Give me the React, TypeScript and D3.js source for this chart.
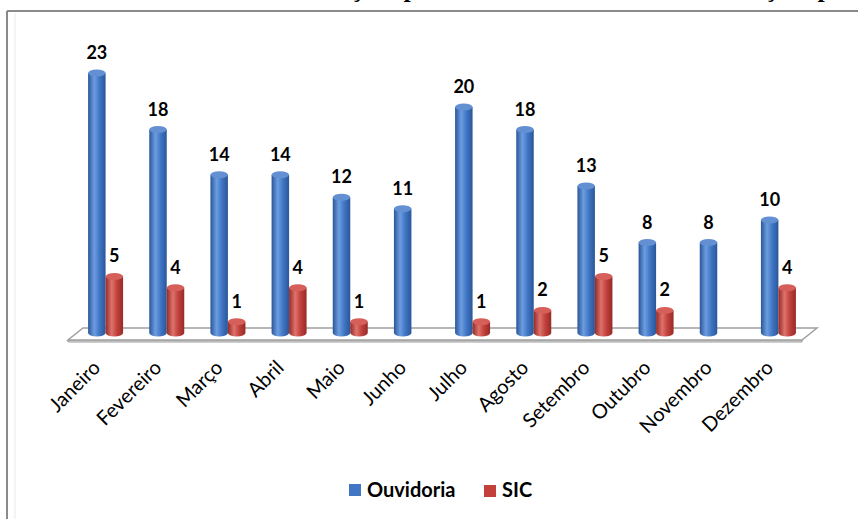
import * as d3 from "d3";

const months = ["Janeiro", "Fevereiro", "Março", "Abril", "Maio", "Junho", "Julho", "Agosto", "Setembro", "Outubro", "Novembro", "Dezembro"];
const ouvidoria = [23, 18, 14, 14, 12, 11, 20, 18, 13, 8, 8, 10];
const sic: (number | null)[] = [5, 4, 1, 4, 1, null, 1, 2, 5, 2, null, 4];
const seriesNames = ["Ouvidoria", "SIC"];
const titleText = "Número de Manifestações por mês - Ouvidoria x Manifestações por SIC";

const W = 858;
const H = 519;
const FONT = "Lato, 'Open Sans', sans-serif";

const BLUE = { dark: "#2a5699", mid: "#4076c4", light: "#6c9de0", top: "#6390d2" };
const RED = { dark: "#962a27", mid: "#c2413c", light: "#dd736b", top: "#d65f59" };

function Cylinder({ cx, w, yTop, yBottom, grad, top }: { cx: number; w: number; yTop: number; yBottom: number; grad: string; top: string }) {
  const rx = w / 2;
  const ry = 3.5;
  const x0 = cx - rx;
  const x1 = cx + rx;
  const body = `M${x0},${yTop} L${x0},${yBottom} A${rx},${ry} 0 0 0 ${x1},${yBottom} L${x1},${yTop} Z`;
  return (
    <g>
      <path d={body} fill={`url(#${grad})`} />
      <ellipse cx={cx} cy={yTop} rx={rx} ry={ry} fill={top} />
    </g>
  );
}

export default function App() {
  const x = d3.scaleBand<string>().domain(months).range([75, 809]).paddingInner(0).paddingOuter(0);
  const y = d3.scaleLinear().domain([0, 23]).range([333, 73]);
  const barW = 17.5;

  // floor parallelogram (3D base)
  const floorFront = 340;
  const floorBack = 328;
  const depth = 15;
  const fx0 = (x.range()[0] as number) - 7;
  const fx1 = (x.range()[1] as number) - 7;

  const stops = (c: typeof BLUE) => (
    <>
      <stop offset="0%" stopColor={c.dark} />
      <stop offset="35%" stopColor={c.light} />
      <stop offset="65%" stopColor={c.mid} />
      <stop offset="100%" stopColor={c.dark} />
    </>
  );

  return (
    <svg width={W} height={H} style={{ position: "absolute", left: 0, top: 0, background: "#fff" }}>
      <defs>
        <linearGradient id="gBlue" x1="0" x2="1" y1="0" y2="0">{stops(BLUE)}</linearGradient>
        <linearGradient id="gRed" x1="0" x2="1" y1="0" y2="0">{stops(RED)}</linearGradient>
      </defs>

      {/* title, cut off by the top edge as in the source */}
      <text x={110} y={-3} fontFamily="'Liberation Serif', serif" fontWeight="bold" fontSize={26} fill="#000">
        {titleText}
      </text>

      {/* frame */}
      <line x1={7} x2={W} y1={11} y2={11} stroke="#8a8a8a" strokeWidth={2} />
      <line x1={7} x2={7} y1={11} y2={H} stroke="#8a8a8a" strokeWidth={2} />
      <line x1={15} x2={15} y1={13} y2={H} stroke="#f4f4f4" strokeWidth={2} />

      {/* floor */}
      <path
        d={`M${fx0},${floorFront} L${fx1},${floorFront} L${fx1},${floorFront + 2} L${fx0},${floorFront + 2} Z`}
        fill="#d9d9d9"
        stroke="#a0a0a0"
        strokeWidth={1}
      />
      <path
        d={`M${fx0},${floorFront} L${fx1},${floorFront} L${fx1 + depth},${floorBack} L${fx0 + depth},${floorBack} Z`}
        fill="#fff"
        stroke="#a0a0a0"
        strokeWidth={1.5}
      />

      {/* bars */}
      {months.map((m, i) => {
        const c = (x(m) as number) + x.bandwidth() / 2;
        const s = sic[i];
        return (
          <g key={m}>
            <Cylinder cx={c - barW / 2} w={barW} yTop={y(ouvidoria[i])} yBottom={y(0)} grad="gBlue" top={BLUE.top} />
            {s != null && <Cylinder cx={c + barW / 2} w={barW} yTop={y(s)} yBottom={y(0)} grad="gRed" top={RED.top} />}
            <text x={c - barW / 2} y={y(ouvidoria[i]) - 14} textAnchor="middle" fontFamily={FONT} fontWeight="bold" fontSize={18} fill="#000">
              {ouvidoria[i]}
            </text>
            {s != null && (
              <text x={c + barW / 2} y={y(s) - 14} textAnchor="middle" fontFamily={FONT} fontWeight="bold" fontSize={18} fill="#000">
                {s}
              </text>
            )}
          </g>
        );
      })}

      {/* category labels */}
      {months.map((m) => {
        const c = (x(m) as number) + x.bandwidth() / 2;
        return (
          <text
            key={m}
            transform={`translate(${c - 4},${369}) rotate(-45)`}
            textAnchor="end"
            fontFamily={FONT}
            fontSize={20}
            fill="#000"
          >
            {m}
          </text>
        );
      })}

      {/* legend */}
      <rect x={349} y={484} width={12} height={12} fill="#4076c4" />
      <text x={367} y={497} fontFamily={FONT} fontWeight="bold" fontSize={20} fill="#000">{seriesNames[0]}</text>
      <rect x={484} y={485} width={12} height={12} fill="#c2413c" />
      <text x={502} y={497} fontFamily={FONT} fontWeight="bold" fontSize={20} fill="#000">{seriesNames[1]}</text>
    </svg>
  );
}
